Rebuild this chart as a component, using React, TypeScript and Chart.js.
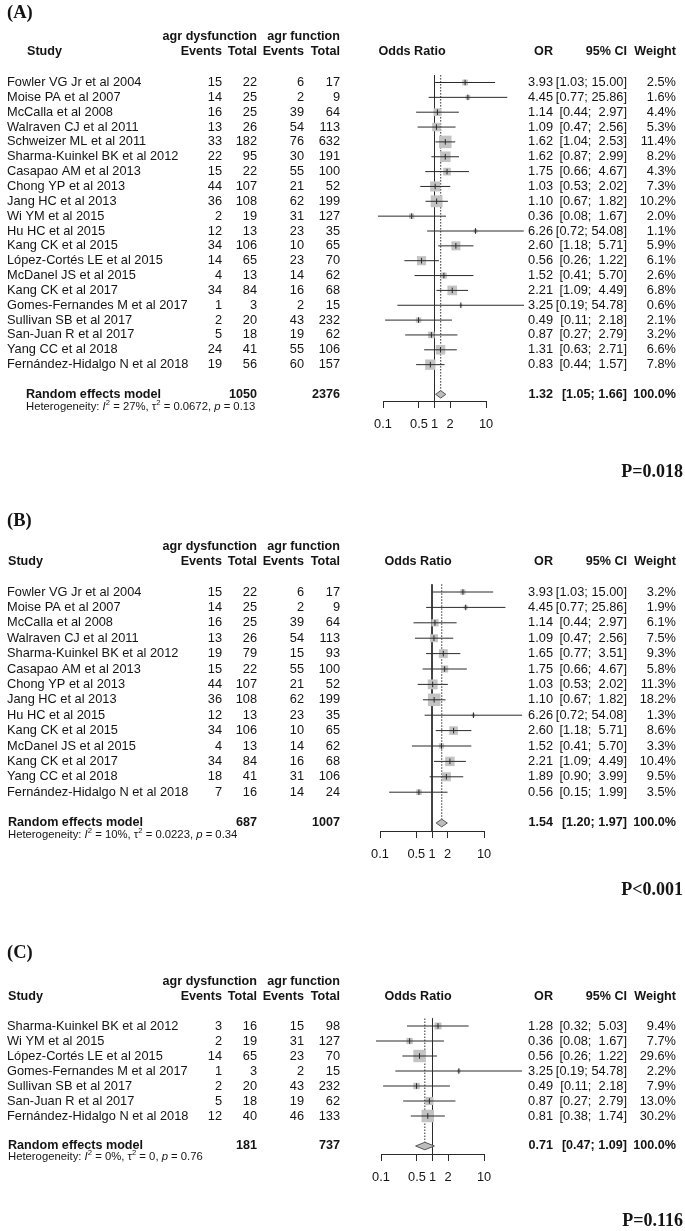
import React, { useEffect, useRef } from 'react';
import { Chart, registerables } from 'chart.js';

Chart.register(...registerables);

// ---------------- Panel A ----------------
const A_STUDIES = ['Fowler VG Jr et al 2004', 'Moise PA et al 2007', 'McCalla et al 2008', 'Walraven CJ et al 2011', 'Schweizer ML et al 2011', 'Sharma-Kuinkel BK et al 2012', 'Casapao AM et al 2013', 'Chong YP et al 2013', 'Jang HC et al 2013', 'Wi YM et al 2015', 'Hu HC et al 2015', 'Kang CK et al 2015', 'López-Cortés LE et al 2015', 'McDanel JS et al 2015', 'Kang CK et al 2017', 'Gomes-Fernandes M et al 2017', 'Sullivan SB et al 2017', 'San-Juan R et al 2017', 'Yang CC et al 2018', 'Fernández-Hidalgo N et al 2018'];
const A_EVENTS_DYS = [15, 14, 16, 13, 33, 22, 15, 44, 36, 2, 12, 34, 14, 4, 34, 1, 2, 5, 24, 19];
const A_TOTAL_DYS = [22, 25, 25, 26, 182, 95, 22, 107, 108, 19, 13, 106, 65, 13, 84, 3, 20, 18, 41, 56];
const A_EVENTS_FUN = [6, 2, 39, 54, 76, 30, 55, 21, 62, 31, 23, 10, 23, 14, 16, 2, 43, 19, 55, 60];
const A_TOTAL_FUN = [17, 9, 64, 113, 632, 191, 100, 52, 199, 127, 35, 65, 70, 62, 68, 15, 232, 62, 106, 157];
const A_OR = [3.93, 4.45, 1.14, 1.09, 1.62, 1.62, 1.75, 1.03, 1.10, 0.36, 6.26, 2.60, 0.56, 1.52, 2.21, 3.25, 0.49, 0.87, 1.31, 0.83];
const A_LOW = [1.03, 0.77, 0.44, 0.47, 1.04, 0.87, 0.66, 0.53, 0.67, 0.08, 0.72, 1.18, 0.26, 0.41, 1.09, 0.19, 0.11, 0.27, 0.63, 0.44];
const A_HIGH = [15.00, 25.86, 2.97, 2.56, 2.53, 2.99, 4.67, 2.02, 1.82, 1.67, 54.08, 5.71, 1.22, 5.70, 4.49, 54.78, 2.18, 2.79, 2.71, 1.57];
const A_WEIGHT = [2.5, 1.6, 4.4, 5.3, 11.4, 8.2, 4.3, 7.3, 10.2, 2.0, 1.1, 5.9, 6.1, 2.6, 6.8, 0.6, 2.1, 3.2, 6.6, 7.8];
const A_POOLED = [1.32, 1.05, 1.66];
const A_TOTALS = [1050, 2376];
const A_HET = ['27%', '0.0672', '0.13'];
const A_P = 'P=0.018';

// ---------------- Panel B ----------------
const B_STUDIES = ['Fowler VG Jr et al 2004', 'Moise PA et al 2007', 'McCalla et al 2008', 'Walraven CJ et al 2011', 'Sharma-Kuinkel BK et al 2012', 'Casapao AM et al 2013', 'Chong YP et al 2013', 'Jang HC et al 2013', 'Hu HC et al 2015', 'Kang CK et al 2015', 'McDanel JS et al 2015', 'Kang CK et al 2017', 'Yang CC et al 2018', 'Fernández-Hidalgo N et al 2018'];
const B_EVENTS_DYS = [15, 14, 16, 13, 19, 15, 44, 36, 12, 34, 4, 34, 18, 7];
const B_TOTAL_DYS = [22, 25, 25, 26, 79, 22, 107, 108, 13, 106, 13, 84, 41, 16];
const B_EVENTS_FUN = [6, 2, 39, 54, 15, 55, 21, 62, 23, 10, 14, 16, 31, 14];
const B_TOTAL_FUN = [17, 9, 64, 113, 93, 100, 52, 199, 35, 65, 62, 68, 106, 24];
const B_OR = [3.93, 4.45, 1.14, 1.09, 1.65, 1.75, 1.03, 1.10, 6.26, 2.60, 1.52, 2.21, 1.89, 0.56];
const B_LOW = [1.03, 0.77, 0.44, 0.47, 0.77, 0.66, 0.53, 0.67, 0.72, 1.18, 0.41, 1.09, 0.90, 0.15];
const B_HIGH = [15.00, 25.86, 2.97, 2.56, 3.51, 4.67, 2.02, 1.82, 54.08, 5.71, 5.70, 4.49, 3.99, 1.99];
const B_WEIGHT = [3.2, 1.9, 6.1, 7.5, 9.3, 5.8, 11.3, 18.2, 1.3, 8.6, 3.3, 10.4, 9.5, 3.5];
const B_POOLED = [1.54, 1.20, 1.97];
const B_TOTALS = [687, 1007];
const B_HET = ['10%', '0.0223', '0.34'];
const B_P = 'P<0.001';

// ---------------- Panel C ----------------
const C_STUDIES = ['Sharma-Kuinkel BK et al 2012', 'Wi YM et al 2015', 'López-Cortés LE et al 2015', 'Gomes-Fernandes M et al 2017', 'Sullivan SB et al 2017', 'San-Juan R et al 2017', 'Fernández-Hidalgo N et al 2018'];
const C_EVENTS_DYS = [3, 2, 14, 1, 2, 5, 12];
const C_TOTAL_DYS = [16, 19, 65, 3, 20, 18, 40];
const C_EVENTS_FUN = [15, 31, 23, 2, 43, 19, 46];
const C_TOTAL_FUN = [98, 127, 70, 15, 232, 62, 133];
const C_OR = [1.28, 0.36, 0.56, 3.25, 0.49, 0.87, 0.81];
const C_LOW = [0.32, 0.08, 0.26, 0.19, 0.11, 0.27, 0.38];
const C_HIGH = [5.03, 1.67, 1.22, 54.78, 2.18, 2.79, 1.74];
const C_WEIGHT = [9.4, 7.7, 29.6, 2.2, 7.9, 13.0, 30.2];
const C_POOLED = [0.71, 0.47, 1.09];
const C_TOTALS = [181, 737];
const C_HET = ['0%', '0', '0.76'];
const C_P = 'P=0.116';

// ---------------- Axis ----------------
const AXIS_TICKS = [0.1, 0.5, 1, 2, 10];
const AXIS_LABELS = ['0.1', '0.5', '1', '2', '10'];

// ---------------- Styling / layout ----------------
const W = 685;
const SANS = '"Liberation Sans", Arial, Helvetica, sans-serif';
const SERIF = '"Liberation Serif", "Times New Roman", serif';
const FS = 12.8;
const FSB = 12.6;
const TEXT = '#141414';
const LINE = '#2a2a2a';
const SQUARE_MAX = 12.5;
const DIAMOND_H = 0.25;
const AXIS_H = 40;

const COLS = { name: 7, evD: 222, totD: 257, evF: 304, totF: 340, or: 553, ci: 627, w: 676 };

const LAYOUT_A = { top: 0, height: 500, labelY: 13, hdr1Y: 37, hdr2Y: 52, row0Y: 82.5, step: 14.85, axisY: 401, x01: 383, x10: 486, hetDy: 13, pY: 472, studyX: 27, pooledX: 26, orHdrX: 412 };
const LAYOUT_B = { top: 500, height: 420, labelY: 521, hdr1Y: 547, hdr2Y: 562, row0Y: 592, step: 15.4, axisY: 831, x01: 380, x10: 484, hetDy: 12, pY: 890, studyX: 8, pooledX: 8, orHdrX: 418 };
const LAYOUT_C = { top: 920, height: 311, labelY: 953, hdr1Y: 982, hdr2Y: 997, row0Y: 1026, step: 15, axisY: 1154, x01: 381, x10: 484, hetDy: 11, pY: 1221, studyX: 8, pooledX: 8, orHdrX: 418 };

const PANELS = [
  { letter: '(A)', studies: A_STUDIES, evD: A_EVENTS_DYS, totD: A_TOTAL_DYS, evF: A_EVENTS_FUN, totF: A_TOTAL_FUN, or: A_OR, low: A_LOW, high: A_HIGH, weight: A_WEIGHT, pooled: A_POOLED, totals: A_TOTALS, het: A_HET, p: A_P, layout: LAYOUT_A },
  { letter: '(B)', studies: B_STUDIES, evD: B_EVENTS_DYS, totD: B_TOTAL_DYS, evF: B_EVENTS_FUN, totF: B_TOTAL_FUN, or: B_OR, low: B_LOW, high: B_HIGH, weight: B_WEIGHT, pooled: B_POOLED, totals: B_TOTALS, het: B_HET, p: B_P, layout: LAYOUT_B },
  { letter: '(C)', studies: C_STUDIES, evD: C_EVENTS_DYS, totD: C_TOTAL_DYS, evF: C_EVENTS_FUN, totF: C_TOTAL_FUN, or: C_OR, low: C_LOW, high: C_HIGH, weight: C_WEIGHT, pooled: C_POOLED, totals: C_TOTALS, het: C_HET, p: C_P, layout: LAYOUT_C },
];

const f2 = (v: number) => v.toFixed(2);
const padL = (s: string, n: number) => (s.length >= n ? s : ' '.repeat(n - s.length) + s);
const ciText = (lo: number, hi: number) => `[${f2(lo)}; ${padL(f2(hi), 5)}]`;

function drawRich(ctx: CanvasRenderingContext2D, segs: any[], x: number, y: number, size: number) {
  let cx = x;
  ctx.textAlign = 'left';
  ctx.textBaseline = 'middle';
  for (const s of segs) {
    const sz = s.sup ? size * 0.68 : size;
    ctx.font = `${s.italic ? 'italic ' : ''}${sz}px ${SANS}`;
    const dy = s.sup ? -size * 0.38 : 0;
    ctx.fillText(s.t, cx, y + dy);
    cx += ctx.measureText(s.t).width;
  }
}

function ForestPanel({ panel }: { panel: any }) {
  const ref = useRef<HTMLCanvasElement>(null);
  const L = panel.layout;

  useEffect(() => {
    const n = panel.studies.length;
    const pooledRow = n + 1;
    const areaTop = L.row0Y - 0.5 * L.step - L.top;
    const areaBottom = L.axisY - L.top;
    const yMax = -0.5 + (areaBottom - areaTop) / L.step;
    const maxW = Math.max(...panel.weight);

    const ci: any[] = [];
    panel.low.forEach((lo: number, i: number) => {
      ci.push({ x: lo, y: i }, { x: panel.high[i], y: i }, { x: 1, y: null });
    });
    const pts = panel.or.map((v: number, i: number) => ({ x: v, y: i }));
    const radii = panel.weight.map((w: number) => Math.max(1, (SQUARE_MAX * Math.sqrt(w / maxW)) / Math.SQRT2));
    const [pe, plo, phi] = panel.pooled;
    const diamond = [
      { x: plo, y: pooledRow },
      { x: pe, y: pooledRow - DIAMOND_H },
      { x: phi, y: pooledRow },
      { x: pe, y: pooledRow + DIAMOND_H },
      { x: plo, y: pooledRow },
    ];

    const textPlugin = {
      id: 'forestText',
      afterDraw(chart: any) {
        const ctx: CanvasRenderingContext2D = chart.ctx;
        const ys = chart.scales.y;
        const T = L.top;
        const reg = `${FS}px ${SANS}`;
        const bold = `bold ${FSB}px ${SANS}`;
        ctx.save();
        ctx.fillStyle = TEXT;
        ctx.textBaseline = 'middle';
        const put = (s: string, x: number, y: number, align: CanvasTextAlign, f: string) => {
          ctx.font = f;
          ctx.textAlign = align;
          ctx.fillText(s, x, y);
        };
        put(panel.letter, 7, L.labelY - T, 'left', `bold 18.5px ${SERIF}`);
        const y1 = L.hdr1Y - T;
        const y2 = L.hdr2Y - T;
        put('agr dysfunction', COLS.totD, y1, 'right', bold);
        put('agr function', COLS.totF, y1, 'right', bold);
        put('Study', L.studyX, y2, 'left', bold);
        put('Events', COLS.evD, y2, 'right', bold);
        put('Total', COLS.totD, y2, 'right', bold);
        put('Events', COLS.evF, y2, 'right', bold);
        put('Total', COLS.totF, y2, 'right', bold);
        put('Odds Ratio', L.orHdrX, y2, 'center', bold);
        put('OR', COLS.or, y2, 'right', bold);
        put('95% CI', COLS.ci, y2, 'right', bold);
        put('Weight', COLS.w, y2, 'right', bold);

        panel.studies.forEach((s: string, i: number) => {
          const y = ys.getPixelForValue(i);
          put(s, COLS.name, y, 'left', reg);
          put(String(panel.evD[i]), COLS.evD, y, 'right', reg);
          put(String(panel.totD[i]), COLS.totD, y, 'right', reg);
          put(String(panel.evF[i]), COLS.evF, y, 'right', reg);
          put(String(panel.totF[i]), COLS.totF, y, 'right', reg);
          put(f2(panel.or[i]), COLS.or, y, 'right', reg);
          put(ciText(panel.low[i], panel.high[i]), COLS.ci, y, 'right', reg);
          put(panel.weight[i].toFixed(1) + '%', COLS.w, y, 'right', reg);
        });

        const yp = ys.getPixelForValue(pooledRow);
        put('Random effects model', L.pooledX, yp, 'left', bold);
        put(String(panel.totals[0]), COLS.totD, yp, 'right', bold);
        put(String(panel.totals[1]), COLS.totF, yp, 'right', bold);
        put(f2(pe), COLS.or, yp, 'right', bold);
        put(`[${f2(plo)}; ${f2(phi)}]`, COLS.ci, yp, 'right', bold);
        put('100.0%', COLS.w, yp, 'right', bold);

        drawRich(ctx, [
          { t: 'Heterogeneity: ' },
          { t: 'I', italic: true },
          { t: '2', sup: true },
          { t: ` = ${panel.het[0]}, ` },
          { t: 'τ' },
          { t: '2', sup: true },
          { t: ` = ${panel.het[1]}, ` },
          { t: 'p', italic: true },
          { t: ` = ${panel.het[2]}` },
        ], L.pooledX, yp + L.hetDy, 11.3);

        put(panel.p, 683, L.pY - T, 'right', `bold 18px ${SERIF}`);
        ctx.restore();
      },
    };

    const chart = new Chart(ref.current as HTMLCanvasElement, {
      type: 'scatter',
      data: {
        datasets: [
          { type: 'line', data: [{ x: 1, y: -0.5 }, { x: 1, y: yMax }], borderColor: LINE, borderWidth: 1, pointRadius: 0, clip: false, order: 7 } as any,
          { type: 'line', data: [{ x: pe, y: -0.5 }, { x: pe, y: pooledRow - DIAMOND_H }], borderColor: LINE, borderWidth: 1, borderDash: [1.5, 1.5], pointRadius: 0, clip: false, order: 6 } as any,
          { type: 'scatter', data: pts, pointStyle: 'rect', pointRadius: radii, backgroundColor: '#c3c3c3', borderWidth: 0, clip: false, order: 5 } as any,
          { type: 'line', data: ci, borderColor: LINE, borderWidth: 1, pointRadius: 0, spanGaps: false, clip: false, order: 3 } as any,
          { type: 'scatter', data: pts, pointStyle: 'line', pointRotation: 90, pointRadius: 2.8, borderColor: LINE, borderWidth: 1, clip: false, order: 2 } as any,
          { type: 'line', data: diamond, fill: 'shape', backgroundColor: '#bdbdbd', borderColor: '#555', borderWidth: 1, pointRadius: 0, tension: 0, clip: false, order: 1 } as any,
        ],
      },
      options: {
        animation: false,
        responsive: false,
        maintainAspectRatio: false,
        events: [],
        layout: { padding: { left: L.x01, right: W - L.x10, top: areaTop, bottom: L.height - areaBottom - AXIS_H } },
        scales: {
          x: {
            type: 'logarithmic',
            min: 0.1,
            max: 10,
            position: 'bottom',
            afterBuildTicks: (s: any) => { s.ticks = AXIS_TICKS.map((v) => ({ value: v })); },
            afterFit: (s: any) => { s.height = AXIS_H; },
            grid: { display: true, drawOnChartArea: false, drawTicks: true, tickLength: 7, tickColor: LINE, tickWidth: 1 },
            border: { display: true, color: LINE, width: 1 },
            ticks: {
              autoSkip: false, maxRotation: 0, minRotation: 0, padding: 9, color: TEXT,
              font: { family: SANS, size: FS },
              callback: (v: any) => { const k = AXIS_TICKS.indexOf(Number(v)); return k >= 0 ? AXIS_LABELS[k] : ''; },
            },
          } as any,
          y: { type: 'linear', display: false, reverse: true, min: -0.5, max: yMax },
        },
        plugins: { legend: { display: false }, tooltip: { enabled: false } },
      } as any,
      plugins: [textPlugin],
    });
    return () => chart.destroy();
  }, [panel]);

  return (
    <canvas
      ref={ref}
      width={W}
      height={L.height}
      style={{ position: 'absolute', left: 0, top: L.top, width: W, height: L.height }}
    />
  );
}

export default function App() {
  return (
    <div style={{ position: 'absolute', left: 0, top: 0, width: W, height: 1231, background: '#fff', overflow: 'hidden' }}>
      {PANELS.map((p) => (
        <ForestPanel key={p.letter} panel={p} />
      ))}
    </div>
  );
}
